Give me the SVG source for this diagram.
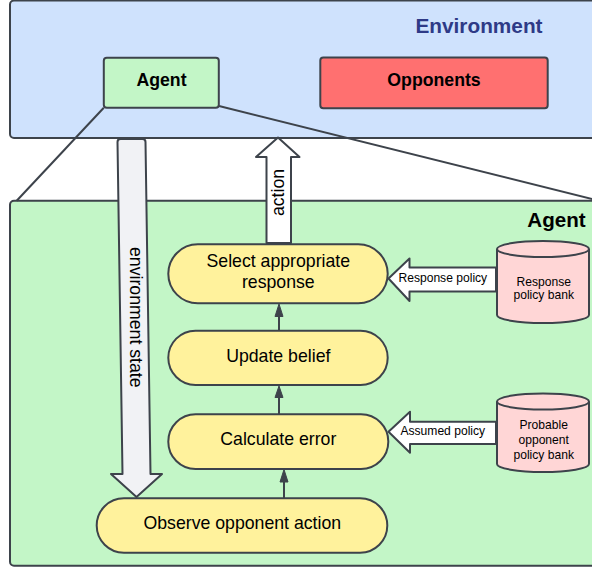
<svg xmlns="http://www.w3.org/2000/svg" width="592" height="567" viewBox="0 0 592 567">
<style>
.box{stroke:#3d434b;stroke-width:2;stroke-linejoin:round}
.pill{fill:#fff29c;stroke:#3d434b;stroke-width:2}
.t{font-family:"Liberation Sans",Arial,sans-serif;fill:#000}
.pt{font-size:17.7px;text-anchor:middle}
.st{font-size:12.1px;text-anchor:middle}
.b{font-weight:bold}
.blk{stroke:#3d434b;stroke-width:2;stroke-linejoin:round}
.ln{stroke:#3d434b;stroke-width:2;fill:none}
.cyl{fill:#ffd6d6;stroke:#3d434b;stroke-width:2}
</style>
<defs>
<marker id="ah" viewBox="0 0 8 11" refX="8" refY="4" markerWidth="8" markerHeight="11" markerUnits="userSpaceOnUse" orient="auto">
<path d="M0,0 L11,4 L0,8 Z" fill="#3d434b" transform="translate(-3,0)"/>
</marker>
</defs>
<rect width="592" height="567" fill="#ffffff"/>
<g id="environment">
<rect class="box" x="10" y="0.5" width="600" height="137.5" rx="4" fill="#cfe2fd"/>
<text class="t b" x="479" y="33.3" font-size="20.8" text-anchor="middle" fill="#2e3a87" style="fill:#2e3a87">Environment</text>
</g>
<g id="agent-small">
<rect class="box" x="103.8" y="57.7" width="115" height="50" rx="3" fill="#c3f6c7"/>
<text class="t b pt" x="161.5" y="86">Agent</text>
</g>
<g id="opponents">
<rect class="box" x="320.3" y="57.5" width="227.4" height="50.8" rx="3" fill="#ff7070"/>
<text class="t b pt" x="434" y="86">Opponents</text>
</g>
<g id="agent-big">
<rect class="box" x="10" y="200.7" width="600" height="365" rx="4" fill="#c3f6c7"/>
<text class="t b" x="556.5" y="227.3" font-size="20.6" text-anchor="middle">Agent</text>
</g>
<g id="connectors">
<line class="ln" x1="103.8" y1="107.7" x2="16.7" y2="200.7"/>
<line class="ln" x1="219" y1="106" x2="600" y2="201"/>
<line class="ln" x1="279" y1="330.7" x2="279" y2="316" />
<path d="M275,316.5 L283,316.5 L279,304 Z" fill="#3d434b" stroke="#3d434b" stroke-width="1" stroke-linejoin="round"/>
<line class="ln" x1="279" y1="414.3" x2="279" y2="397"/>
<path d="M275,397.5 L283,397.5 L279,386 Z" fill="#3d434b" stroke="#3d434b" stroke-width="1" stroke-linejoin="round"/>
<line class="ln" x1="284" y1="498.3" x2="284" y2="481.5"/>
<path d="M280,482 L288,482 L284,469.5 Z" fill="#3d434b" stroke="#3d434b" stroke-width="1" stroke-linejoin="round"/>
</g>
<g id="environment-state">
<path class="blk" fill="#f1f2f5" d="M117.5,142 Q117.5,139 120.5,139 L142.5,139 Q145.5,139 145.5,142 L150.5,474 L162,474 L136.5,497 L111,474 L122.5,474 Z"/>
<text class="t pt" transform="translate(136,317.3) rotate(90)" x="0" y="6">environment state</text>
</g>
<g id="action">
<path class="blk" fill="#ffffff" d="M278,137.5 L299.5,157 L291,157 L291,243 L266.5,243 L266.5,157 L256,157 Z"/>
<text class="t pt" transform="translate(277.5,192.5) rotate(-90)" x="0" y="6">action</text>
</g>
<g id="select-response">
<rect class="pill" x="168.3" y="244.3" width="219.4" height="59" rx="29.5"/>
<text class="t pt" x="278.3" y="267.3">Select appropriate</text>
<text class="t pt" x="278.3" y="288.3">response</text>
</g>
<g id="update-belief">
<rect class="pill" x="168.3" y="330.7" width="219.4" height="54.3" rx="27.2"/>
<text class="t pt" x="278.3" y="361.7">Update belief</text>
</g>
<g id="calculate-error">
<rect class="pill" x="168.3" y="414.3" width="220" height="54.7" rx="27.3"/>
<text class="t pt" x="278.3" y="445">Calculate error</text>
</g>
<g id="observe-action">
<rect class="pill" x="96.7" y="498.3" width="290.6" height="54.4" rx="27.2"/>
<text class="t pt" x="242.3" y="529.3">Observe opponent action</text>
</g>
<g id="response-policy">
<path class="blk" fill="#ffffff" d="M388.5,278.5 L409.5,258.5 L409.5,267.5 L496,267.5 L496,291.5 L409.5,291.5 L409.5,301 Z"/>
<text class="t st" x="442.8" y="281.7">Response policy</text>
</g>
<g id="assumed-policy">
<path class="blk" fill="#ffffff" d="M388.5,431.7 L410,411.7 L410,421.7 L496,421.7 L496,444 L410,444 L410,452.7 Z"/>
<text class="t st" x="442.8" y="435">Assumed policy</text>
</g>
<g id="response-bank">
<path class="cyl" d="M497,249 L497,315 A46,8 0 0 0 589,315 L589,249"/>
<ellipse class="cyl" cx="543" cy="249" rx="46" ry="8"/>
<text class="t st" x="543.7" y="285.5">Response</text>
<text class="t st" x="543.7" y="299">policy bank</text>
</g>
<g id="opponent-bank">
<path class="cyl" d="M497,401.5 L497,464 A46,8 0 0 0 589,464 L589,401.5"/>
<ellipse class="cyl" cx="543" cy="401.5" rx="46" ry="8"/>
<text class="t st" x="543.7" y="429">Probable</text>
<text class="t st" x="543.7" y="444">opponent</text>
<text class="t st" x="543.7" y="459">policy bank</text>
</g>
</svg>
